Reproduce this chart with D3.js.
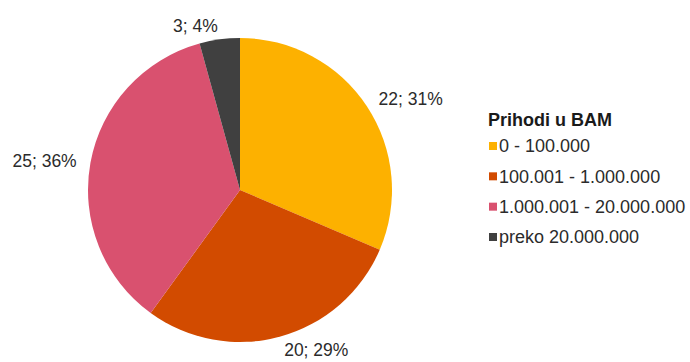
<!DOCTYPE html>
<html>
<head>
<meta charset="utf-8">
<script src="https://cdn.jsdelivr.net/npm/d3@7"></script>
<style>
  html, body { margin: 0; padding: 0; background: #fff; }
  svg { display: block; font-family: "Liberation Sans", Arial, sans-serif; }
</style>
</head>
<body>
<svg id="chart" width="690" height="362"></svg>
<script>
// Data
const categories = ["0 - 100.000", "100.001 - 1.000.000", "1.000.001 - 20.000.000", "preko 20.000.000"];
const counts = [22, 20, 25, 3];
const percents = [31, 29, 36, 4];
const colors = ["#FDB100", "#D24B00", "#D9516F", "#404040"];
const legendTitle = "Prihodi u BAM";

const svg = d3.select("#chart");
const cx = 240, cy = 190, r = 152;

const pie = d3.pie().sort(null).value(d => d.v);
const arcs = pie(counts.map((v, i) => ({ v, i })));
const arc = d3.arc().innerRadius(0).outerRadius(r);

const g = svg.append("g").attr("transform", `translate(${cx},${cy})`);
g.selectAll("path.slice").data(arcs).enter().append("path")
  .attr("class", "slice")
  .attr("d", arc)
  .attr("fill", d => colors[d.data.i]);

// Outside labels
const labelArc = d3.arc().innerRadius(r + 14).outerRadius(r + 14);
g.selectAll("text.lbl").data(arcs).enter().append("text")
  .attr("class", "lbl")
  .each(function(d) {
    const [x, y] = labelArc.centroid(d);
    const mid = (d.startAngle + d.endAngle) / 2;
    d3.select(this)
      .attr("x", x)
      .attr("y", y)
      .attr("dy", "0.36em")
      .attr("text-anchor", Math.sin(mid) >= 0 ? "start" : "end");
  })
  .attr("font-size", 17.5)
  .attr("fill", "#2b2b2b")
  .text(d => `${counts[d.data.i]}; ${percents[d.data.i]}%`);

// Legend
const legend = svg.append("g").attr("transform", "translate(488,0)");
legend.append("text")
  .attr("x", 0).attr("y", 119.5).attr("dy", "0.36em")
  .attr("font-size", 18).attr("font-weight", "bold").attr("fill", "#1a1a1a")
  .text(legendTitle);

const ly = d3.scalePoint().domain(d3.range(categories.length)).range([146, 237]);
const items = legend.selectAll("g.item").data(categories).enter().append("g")
  .attr("class", "item")
  .attr("transform", (d, i) => `translate(0,${ly(i)})`);
items.append("rect")
  .attr("x", 1).attr("y", -4).attr("width", 8).attr("height", 8)
  .attr("fill", (d, i) => colors[i]);
items.append("text")
  .attr("x", 11).attr("y", 0).attr("dy", "0.36em")
  .attr("font-size", 18).attr("fill", "#2b2b2b")
  .text(d => d);
</script>
</body>
</html>
